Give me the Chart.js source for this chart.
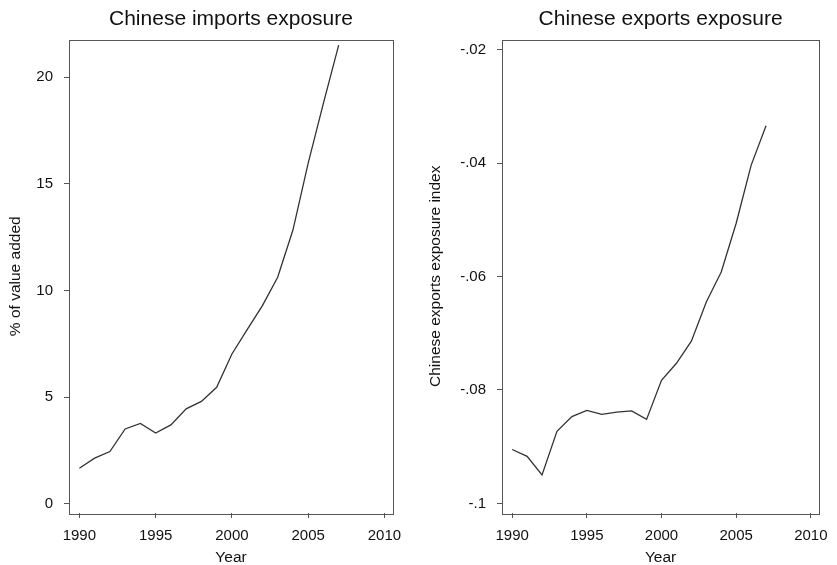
<!DOCTYPE html>
<html>
<head>
<meta charset="utf-8">
<script src="https://cdn.jsdelivr.net/npm/chart.js@4.4.1/dist/chart.umd.min.js"></script>
<style>
  body { margin: 0; background: #fff; }
  #wrap { position: relative; width: 837px; height: 565px; }
  canvas { position: absolute; top: 0; }
</style>
</head>
<body>
<div id="wrap">
  <canvas id="importsChart" width="418" height="565" style="left:0"></canvas>
  <canvas id="exportsChart" width="419" height="565" style="left:418px"></canvas>
</div>
<script>
const years = [1990, 1991, 1992, 1993, 1994, 1995, 1996, 1997, 1998, 1999,
               2000, 2001, 2002, 2003, 2004, 2005, 2006, 2007];
const importsExposure = [1.67, 2.14, 2.45, 3.51, 3.77, 3.32, 3.70, 4.45, 4.80, 5.46,
                         7.02, 8.16, 9.29, 10.62, 12.83, 15.97, 18.78, 21.5];
const exportsExposure = [-0.0905, -0.0917, -0.0950, -0.0873, -0.0847, -0.0836, -0.0843, -0.0839, -0.0837, -0.0852,
                         -0.0783, -0.0753, -0.0714, -0.0645, -0.0592, -0.0506, -0.0404, -0.0334];

const yearTicks = [1990, 1995, 2000, 2005, 2010];
const importsTicks = [0, 5, 10, 15, 20];
const importsTickLabels = ['0', '5', '10', '15', '20'];
const exportsTicks = [-0.1, -0.08, -0.06, -0.04, -0.02];
const exportsTickLabels = ['-.1', '-.08', '-.06', '-.04', '-.02'];

const FONT = "'Liberation Sans', Arial, sans-serif";
const INK = '#111';
const AXIS = '#555';

// frame round the plot area, like Stata draws it
const plotBox = {
    id: 'plotBox',
    beforeDatasetsDraw(chart) {
        const { ctx, chartArea: a } = chart;
        ctx.save();
        ctx.strokeStyle = AXIS;
        ctx.lineWidth = 1;
        ctx.strokeRect(Math.round(a.left) + 0.5, Math.round(a.top) + 0.5,
                       Math.round(a.right - a.left), Math.round(a.bottom - a.top));
        ctx.restore();
    }
};

function makeChart(id, cfg) {
    return new Chart(document.getElementById(id), {
        type: 'line',
        data: {
            datasets: [{
                data: years.map((y, i) => ({ x: y, y: cfg.values[i] })),
                borderColor: '#333',
                borderWidth: 1.3,
                pointRadius: 0,
                tension: 0,
                fill: false
            }]
        },
        options: {
            responsive: false,
            animation: false,
            devicePixelRatio: 1,
            layout: { padding: { left: 0, right: cfg.padRight, top: 0, bottom: 0 } },
            plugins: {
                legend: { display: false },
                tooltip: { enabled: false },
                title: {
                    display: true,
                    text: cfg.title,
                    fullSize: false,
                    color: INK,
                    font: { family: FONT, size: 21, weight: 'normal' },
                    padding: { top: 6.4, bottom: 7.9 }
                }
            },
            scales: {
                x: {
                    type: 'linear',
                    min: 1989.32,
                    max: 2010.56,
                    afterBuildTicks: s => { s.ticks = yearTicks.map(v => ({ value: v })); },
                    afterFit: s => { s.height = 52; },
                    border: { display: false },
                    grid: { drawOnChartArea: false, drawTicks: true, tickLength: 5, color: AXIS },
                    ticks: {
                        color: INK, padding: 9, maxRotation: 0, autoSkip: false,
                        font: { family: FONT, size: 15 },
                        callback: v => String(v)
                    },
                    title: {
                        display: true, text: 'Year', color: INK,
                        font: { family: FONT, size: 15.5, lineHeight: 1 },
                        padding: { top: 0, bottom: 0 }
                    }
                },
                y: {
                    type: 'linear',
                    min: cfg.yMin,
                    max: cfg.yMax,
                    afterBuildTicks: s => { s.ticks = cfg.ticks.map(v => ({ value: v })); },
                    afterFit: s => { s.width = cfg.yWidth; },
                    border: { display: false },
                    grid: { drawOnChartArea: false, drawTicks: true, tickLength: 5, color: AXIS },
                    ticks: {
                        color: INK, padding: 11, autoSkip: false,
                        font: { family: FONT, size: 15 },
                        callback: (v, i) => cfg.tickLabels[i]
                    },
                    title: {
                        display: true, text: cfg.yTitle, color: INK,
                        font: { family: FONT, size: 15.5 },
                        padding: { top: cfg.yTitlePad, bottom: 0 }
                    }
                }
            }
        },
        plugins: [plotBox]
    });
}

makeChart('importsChart', {
    title: 'Chinese imports exposure',
    yTitle: '% of value added',
    values: importsExposure,
    ticks: importsTicks,
    tickLabels: importsTickLabels,
    yMin: -0.43,
    yMax: 21.76,
    yWidth: 69,
    padRight: 25,
    yTitlePad: 6.4
});

makeChart('exportsChart', {
    title: 'Chinese exports exposure',
    yTitle: 'Chinese exports exposure index',
    values: exportsExposure,
    ticks: exportsTicks,
    tickLabels: exportsTickLabels,
    yMin: -0.1017,
    yMax: -0.0182,
    yWidth: 84,
    padRight: 9,
    yTitlePad: 8.7
});
</script>
</body>
</html>
